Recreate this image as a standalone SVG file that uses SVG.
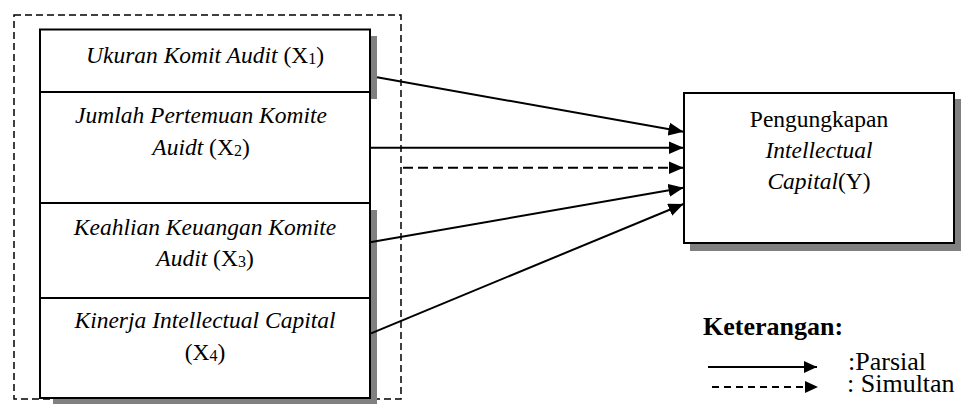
<svg xmlns="http://www.w3.org/2000/svg" width="964" height="406" viewBox="0 0 964 406">
<style>
.box{fill:#fff;stroke:#000;stroke-width:2}
.sh{fill:#808080}
text{font-family:'Liberation Serif','Times New Roman',Tinos,'DejaVu Serif',serif}
.t{font-size:23.5px;fill:#000;text-anchor:middle}
.i{font-style:italic}
.r{font-size:26px;fill:#000}
.ln{stroke:#000;stroke-width:2;fill:none}
.dash{stroke-dasharray:10 5}
</style>
<defs>
<marker id="ah" viewBox="0 0 15 13" refX="15" refY="6.5" markerWidth="15" markerHeight="13" markerUnits="userSpaceOnUse" orient="auto">
<path d="M0,0 L15,6.5 L0,13 Z" fill="#000"/>
</marker>
<marker id="ahs" viewBox="0 0 13 12" refX="13" refY="6" markerWidth="13" markerHeight="12" markerUnits="userSpaceOnUse" orient="auto">
<path d="M0,0 L13,6 L0,12 Z" fill="#000"/>
</marker>
</defs>
<rect x="0" y="0" width="964" height="406" fill="#fff"/>
<g id="group-x">
<rect x="14" y="15" width="387" height="384" fill="none" stroke="#000" stroke-width="1.5" stroke-dasharray="7 4"/>
</g>
<g id="x1">
<rect class="sh" x="370" y="36" width="7" height="63"/>
<rect class="box" x="40" y="29.5" width="330" height="62.5"/>
<text class="t" x="205" y="63" font-family="Liberation Serif, serif"><tspan class="i">Ukuran Komit Audit </tspan>(X<tspan font-size="16" dy="1">1</tspan><tspan dy="-1">)</tspan></text>
</g>
<g id="x2">
<rect class="box" x="40" y="92" width="330" height="111"/>
<text class="t i" x="201" y="123" font-family="Liberation Serif, serif">Jumlah Pertemuan Komite</text>
<text class="t" x="201" y="155" font-family="Liberation Serif, serif"><tspan class="i">Auidt </tspan>(X<tspan font-size="16" dy="1">2</tspan><tspan dy="-1">)</tspan></text>
</g>
<g id="x3">
<rect class="sh" x="370" y="210" width="7" height="194"/>
<rect class="sh" x="53" y="398" width="324" height="6"/>
<rect class="box" x="40" y="203" width="330" height="95"/>
<text class="t i" x="205" y="235" font-family="Liberation Serif, serif">Keahlian Keuangan Komite</text>
<text class="t" x="205" y="266" font-family="Liberation Serif, serif"><tspan class="i">Audit </tspan>(X<tspan font-size="16" dy="1">3</tspan><tspan dy="-1">)</tspan></text>
</g>
<g id="x4">
<rect class="box" x="40" y="298" width="330" height="100"/>
<text class="t i" x="205" y="328" font-family="Liberation Serif, serif">Kinerja Intellectual Capital</text>
<text class="t" x="205" y="360" font-family="Liberation Serif, serif">(X<tspan font-size="16" dy="1">4</tspan><tspan dy="-1">)</tspan></text>
</g>
<g id="y">
<rect class="sh" x="690" y="99" width="271" height="152"/>
<rect class="box" x="684" y="93" width="270" height="150"/>
<text class="t" x="819" y="127" font-size="26" font-family="Liberation Serif, serif">Pengungkapan</text>
<text class="t i" x="819" y="158" font-size="26" font-family="Liberation Serif, serif">Intellectual</text>
<text class="t" x="819" y="189" font-size="26" font-family="Liberation Serif, serif"><tspan class="i">Capital</tspan>(Y)</text>
</g>
<g id="connectors">
<line class="ln" x1="377" y1="77.3" x2="683.5" y2="131.7" marker-end="url(#ah)"/>
<line class="ln" x1="370" y1="147.7" x2="683.5" y2="147.7" marker-end="url(#ah)"/>
<line class="ln dash" x1="403" y1="167.7" x2="683.5" y2="167.7" marker-end="url(#ah)"/>
<line class="ln" x1="370" y1="242.3" x2="683.5" y2="187.7" marker-end="url(#ah)"/>
<line class="ln" x1="371" y1="333.3" x2="683.5" y2="204" marker-end="url(#ah)"/>
</g>
<g id="legend">
<text class="r" x="703" y="335" font-weight="bold" font-family="Liberation Serif, serif">Keterangan:</text>
<line class="ln" x1="708" y1="367" x2="817" y2="367" marker-end="url(#ahs)"/>
<line class="ln" x1="712" y1="387" x2="818" y2="387" stroke-dasharray="7 5" marker-end="url(#ahs)"/>
<text class="r" x="848" y="370" font-family="Liberation Serif, serif">:Parsial</text>
<text class="r" x="847" y="392" font-family="Liberation Serif, serif">: Simultan</text>
</g>
</svg>
